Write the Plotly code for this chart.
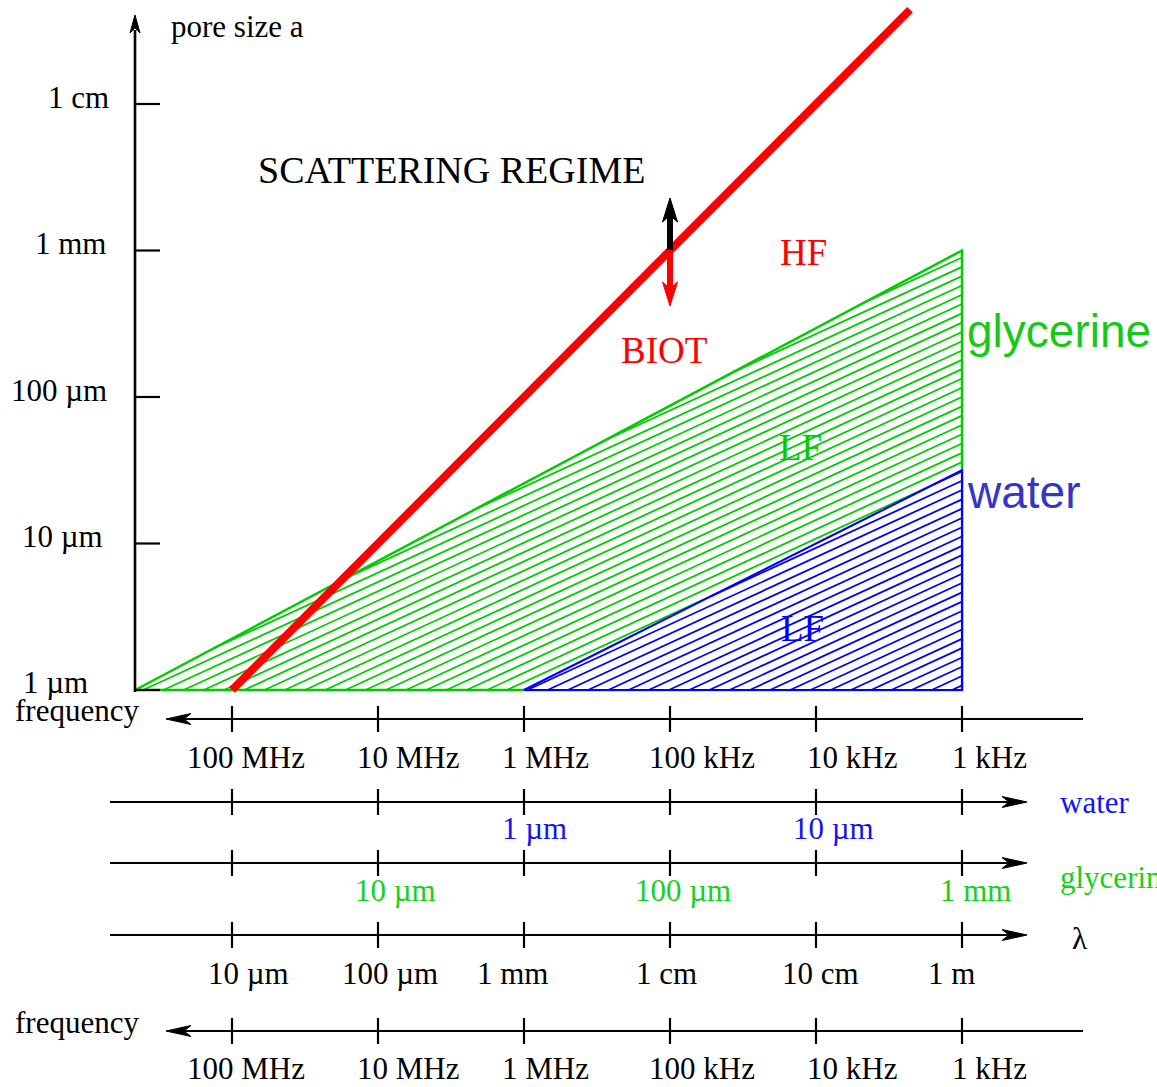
import numpy as np
import plotly.graph_objects as go

W, H = 1157, 1087

# frequency decades along the horizontal scales (Hz)
freq_ticks = [1e8, 1e7, 1e6, 1e5, 1e4, 1e3]
freq_labels = ["100 MHz", "10 MHz", "1 MHz", "100 kHz", "10 kHz", "1 kHz"]

# pore size decades on the vertical axis (m)
size_ticks = [1e-6, 1e-5, 1e-4, 1e-3, 1e-2]
size_labels = ["1 µm", "10 µm", "100 µm", "1 mm", "1 cm"]

# low-frequency (viscous) regions: corners in (frequency Hz, pore size m)
glycerine_freq = [4.6e8, 1e3, 1e3]
glycerine_size = [1e-6, 1e-3, 1e-6]
water_freq = [1e6, 1e3, 1e3]
water_size = [1e-6, 3.16e-5, 1e-6]

# Biot crossover, a ~ 1/f
biot_freq = [1e8, 2.27e3]
biot_size = [1e-6, 4.4e-2]

# viscous skin depth scales
water_depth_freq = [1e6, 1e4]
water_depth_labels = ["1 µm", "10 µm"]
glycerine_depth_freq = [1e7, 1e5, 1e3]
glycerine_depth_labels = ["10 µm", "100 µm", "1 mm"]

# acoustic wavelength scale
wavelength_labels = ["10 µm", "100 µm", "1 mm", "1 cm", "10 cm", "1 m"]

# ---- axis geometry (log10 units, one decade ~146 px) ----
DEC_X, X_REF_PX, X_REF = 146.0, 232.0, 8.0
DEC_Y, Y_REF_PX, Y_REF = 146.5, 690.0, -6.0
x_range = [X_REF + X_REF_PX / DEC_X, X_REF - (W - X_REF_PX) / DEC_X]
y_range = [Y_REF - (H - Y_REF_PX) / DEC_Y, Y_REF + Y_REF_PX / DEC_Y]

SERIF = "Liberation Serif, Times New Roman, serif"
SANS = "Liberation Sans, Arial, sans-serif"
RED = "#ff0000"
GREEN = "#00cc00"
BLUE = "#0000ff"


def hatch(freqs, sizes, slope_px=0.46, gap_px=9.3):
    """Parallel hatch lines clipped to a convex polygon given in data units."""
    u = -np.log10(np.asarray(freqs))
    v = np.log10(np.asarray(sizes))
    m = slope_px * DEC_X / DEC_Y
    step = gap_px / DEC_Y
    pts = list(zip(u, v))
    cs = [b - m * a for a, b in pts]
    xs, ys = [], []
    c = min(cs) + step * 0.5
    while c < max(cs):
        hits = []
        for i in range(len(pts)):
            (a1, b1), (a2, b2) = pts[i], pts[(i + 1) % len(pts)]
            d1 = b1 - m * a1 - c
            d2 = b2 - m * a2 - c
            if d1 == d2:
                continue
            if (d1 <= 0 <= d2) or (d2 <= 0 <= d1):
                t = d1 / (d1 - d2)
                hits.append((a1 + t * (a2 - a1), b1 + t * (b2 - b1)))
        if len(hits) >= 2:
            hits.sort()
            xs += [-hits[0][0], -hits[-1][0], None]
            ys += [hits[0][1], hits[-1][1], None]
        c += step
    return xs, ys


def closed(a):
    a = list(a)
    return a + a[:1]


fig = go.Figure()

# glycerine low-frequency region
gx, gy = hatch(glycerine_freq, glycerine_size)
fig.add_trace(go.Scatter(x=gx, y=gy, mode="lines", line=dict(color=GREEN, width=1.8)))
fig.add_trace(go.Scatter(x=np.log10(closed(glycerine_freq)), y=np.log10(closed(glycerine_size)),
                         mode="lines", line=dict(color=GREEN, width=2.5)))

# water low-frequency region on top
fig.add_trace(go.Scatter(x=np.log10(closed(water_freq)), y=np.log10(closed(water_size)),
                         mode="lines", fill="toself", fillcolor="white", line=dict(width=0)))
wx, wy = hatch(water_freq, water_size)
fig.add_trace(go.Scatter(x=wx, y=wy, mode="lines", line=dict(color=BLUE, width=1.8)))
fig.add_trace(go.Scatter(x=np.log10(closed(water_freq)), y=np.log10(closed(water_size)),
                         mode="lines", line=dict(color=BLUE, width=2.2)))

# Biot crossover line
fig.add_trace(go.Scatter(x=np.log10(biot_freq), y=np.log10(biot_size), mode="lines",
                         line=dict(color=RED, width=8)))

# empty trace that activates the pixel-space overlay axes
fig.add_trace(go.Scatter(x=[None], y=[None], xaxis="x2", yaxis="y2", mode="lines"))

shapes = []
annotations = []


def line(x0, y0, x1, y1, xref="x2", yref="y2", color="black", width=2.2):
    shapes.append(dict(type="line", xref=xref, yref=yref, x0=x0, y0=y0, x1=x1, y1=y1,
                       line=dict(color=color, width=width)))


def head(tx, ty, direction, length, half, color="black", xscale=1.0, xref="x2", yref="y2"):
    """Filled arrow head in pixel units; xscale converts px to the x reference units."""
    if direction == "left":
        p = [(0, 0), (length, -half), (length * 0.72, 0), (length, half)]
    elif direction == "right":
        p = [(0, 0), (-length, -half), (-length * 0.72, 0), (-length, half)]
    elif direction == "up":
        p = [(0, 0), (-half, length), (0, length * 0.72), (half, length)]
    else:
        p = [(0, 0), (-half, -length), (0, -length * 0.72), (half, -length)]
    p = [(tx + a * xscale, ty + b) for a, b in p]
    path = "M " + " L ".join(f"{a},{b}" for a, b in p) + " Z"
    shapes.append(dict(type="path", xref=xref, yref=yref, path=path,
                       fillcolor=color, line=dict(color=color, width=1)))


def text(s, x, y, size=31, color="black", xanchor="center", font=SERIF,
         xref="x2", yref="y2", xshift=0, yshift=0):
    annotations.append(dict(text=s, x=x, y=y, xref=xref, yref=yref, showarrow=False,
                            xanchor=xanchor, yanchor="middle", xshift=xshift, yshift=yshift,
                            font=dict(family=font, size=size, color=color)))


# ---- vertical pore-size axis ----
line(135, 692, 135, 30, width=2.6)
head(135, 15, "up", 18, 5)
label_right = [90, 105, 109, 108, 111]
label_lift = [8, 7, 7, 7, 7]
for s, lab, xr, dy in zip(size_ticks, size_labels, label_right, label_lift):
    line(135, np.log10(s), 160, np.log10(s), yref="y", width=2.2)
    text(lab, xr, np.log10(s), xanchor="right", yref="y", yshift=dy)
text("pore size a", 169, 26, xanchor="left")

# ---- horizontal scales ----
rows = [
    # y, left end, right end, arrow side
    (719, 175, 1083, "left"),
    (802, 110, 1010, "right"),
    (863, 110, 1010, "right"),
    (935, 110, 1010, "right"),
    (1031, 175, 1083, "left"),
]
for y, x0, x1, side in rows:
    line(x0, y, x1, y, width=2.2)
    if side == "left":
        head(166, y, "left", 25, 5.5)
    else:
        head(1027, y, "right", 25, 5.5)
    for f in freq_ticks:
        line(np.log10(f), y - 13, np.log10(f), y + 13, xref="x", width=2.2)

freq_shift = [14, 30, 21, 32, 36, 27]
for y in (757, 1068):
    for f, lab, dx in zip(freq_ticks, freq_labels, freq_shift):
        text(lab, np.log10(f), y, xref="x", xshift=dx)
text("frequency", 13, 710, xanchor="left")
text("frequency", 13, 1022, xanchor="left")

for f, lab, dx in zip(water_depth_freq, water_depth_labels, [10, 17]):
    text(lab, np.log10(f), 828, xref="x", xshift=dx, color="#1414f0")
for f, lab, dx in zip(glycerine_depth_freq, glycerine_depth_labels, [17, 13, 13]):
    text(lab, np.log10(f), 890, xref="x", xshift=dx, color="#14d214")
for f, lab, dx in zip(freq_ticks, wavelength_labels, [16, 12, -12, -4, 4, -11]):
    text(lab, np.log10(f), 973, xref="x", xshift=dx)

text("water", 1058, 802, xanchor="left", color="#1414f0")
text("glycerine", 1058, 877, xanchor="left", color="#14d214")
text("λ", 1070, 938, xanchor="left")

# ---- regime labels ----
text("SCATTERING REGIME", 451, 170, size=38)
text("HF", 803, 252, size=37, color=RED)
text("BIOT", 664, 350, size=37, color=RED)
text("LF", 800, 447, size=37, color=GREEN)
text("LF", 802, 628, size=37, color=BLUE)
text("glycerine", 965, 331, size=46, color="#18c818", xanchor="left", font=SANS)
text("water", 965, 492, size=46, color="#3535c8", xanchor="left", font=SANS)

# ---- transition arrows at the 100 kHz crossover ----
xb = np.log10(1e5)
line(xb, 250, xb, 214, xref="x", width=6)
head(xb, 198, "up", 24, 7.5, color="black", xscale=1 / DEC_X, xref="x")
line(xb, 250, xb, 290, xref="x", color=RED, width=6)
head(xb, 306, "down", 24, 7.5, color=RED, xscale=1 / DEC_X, xref="x")

fig.update_layout(
    width=W, height=H, margin=dict(l=0, r=0, t=0, b=0),
    paper_bgcolor="white", plot_bgcolor="white", showlegend=False,
    xaxis=dict(range=x_range, visible=False, fixedrange=True),
    yaxis=dict(range=y_range, visible=False, fixedrange=True),
    xaxis2=dict(range=[0, W], overlaying="x", anchor="y2", visible=False, fixedrange=True),
    yaxis2=dict(range=[H, 0], overlaying="y", anchor="x2", visible=False, fixedrange=True),
    shapes=shapes, annotations=annotations,
)
for tr in fig.data:
    tr.hoverinfo = "skip"

fig.write_html("out.html")
